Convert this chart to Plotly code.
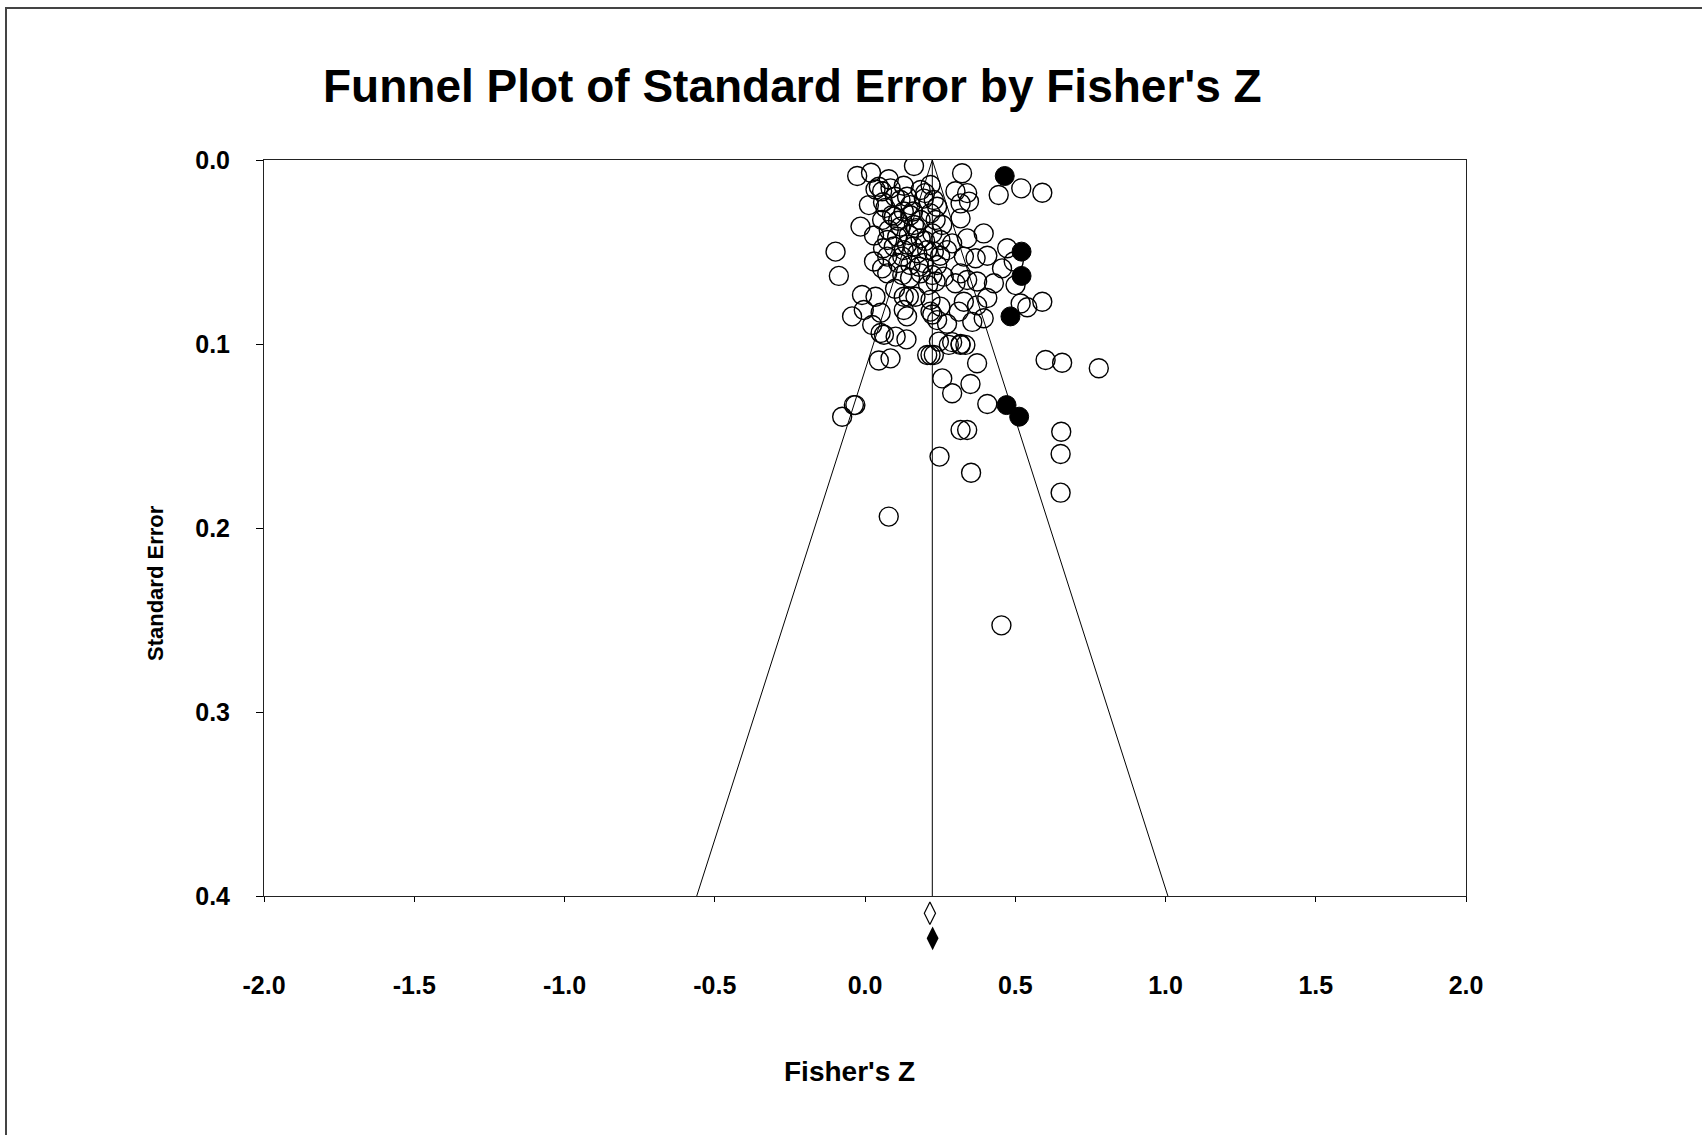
import plotly.graph_objects as go

# ---------------- data ----------------
obs_z = [0.163, -0.026, 0.020, 0.323, 0.079, 0.046, 0.035, 0.057, 0.085, 0.129, 0.185, 0.218,
         0.301, 0.340, 0.445, 0.520, 0.590, 0.013, 0.068, 0.118, 0.151, 0.196, 0.229, 0.240,
         0.346, 0.318, 0.140, -0.015, 0.057, 0.096, 0.129, 0.151, 0.185, 0.218, 0.235, 0.257,
         0.318, 0.118, 0.163, 0.079, 0.395, 0.340, 0.074, 0.107, 0.146, 0.185, 0.224, 0.251,
         0.290, -0.098, 0.473, 0.096, 0.129, 0.030, 0.074, 0.124, 0.174, 0.207, 0.229, 0.273,
         0.329, 0.368, 0.407, 0.456, 0.495, 0.057, 0.151, 0.196, 0.240, -0.087, 0.074, 0.124,
         0.185, 0.224, 0.262, 0.318, 0.340, 0.373, 0.429, 0.501, 0.301, 0.235, -0.010, 0.035,
         0.129, 0.146, 0.168, 0.218, 0.251, 0.329, 0.373, 0.407, 0.518, 0.540, 0.590, -0.043,
         -0.004, 0.052, 0.129, 0.140, 0.218, 0.224, 0.240, 0.273, 0.312, 0.357, 0.395, 0.024,
         0.052, 0.102, 0.290, 0.318, 0.063, 0.138, 0.246, 0.279, 0.318, 0.334, 0.207, 0.218,
         0.229, 0.046, 0.085, 0.373, 0.601, 0.656, 0.778, 0.257, 0.351, 0.290, -0.032, -0.037,
         0.407, -0.076, 0.318, 0.340, 0.653, 0.651, 0.248, 0.353, 0.651, 0.079, 0.454,
         0.100, 0.160, 0.200, 0.060, 0.110, 0.170, 0.140, 0.090, 0.200, 0.250, 0.030, 0.180,
         0.110, 0.150, 0.210, 0.100, 0.060, 0.160]
obs_se = [0.0033, 0.0087, 0.0069, 0.0072, 0.0105, 0.0145, 0.0160, 0.0170, 0.0154, 0.0140, 0.0163, 0.0136,
          0.0170, 0.0180, 0.0190, 0.0154, 0.0178, 0.0245, 0.0260, 0.0217, 0.0245, 0.0210, 0.0217, 0.0254,
          0.0226, 0.0236, 0.0200, 0.0362, 0.0326, 0.0308, 0.0280, 0.0300, 0.0326, 0.0290, 0.0326, 0.0353,
          0.0317, 0.0362, 0.0353, 0.0380, 0.0399, 0.0426, 0.0435, 0.0417, 0.0408, 0.0426, 0.0399, 0.0435,
          0.0453, 0.0498, 0.0480, 0.0470, 0.0490, 0.0552, 0.0525, 0.0525, 0.0507, 0.0490, 0.0498, 0.0490,
          0.0525, 0.0534, 0.0520, 0.0589, 0.0552, 0.0589, 0.0571, 0.0560, 0.0571, 0.0630, 0.0616, 0.0625,
          0.0616, 0.0625, 0.0634, 0.0616, 0.0652, 0.0660, 0.0670, 0.0680, 0.0670, 0.0660, 0.0734, 0.0743,
          0.0743, 0.0743, 0.0743, 0.0760, 0.0797, 0.0770, 0.0790, 0.0750, 0.0780, 0.0800, 0.0770, 0.0850,
          0.0815, 0.0830, 0.0815, 0.0850, 0.0824, 0.0840, 0.0870, 0.0890, 0.0824, 0.0880, 0.0860, 0.0897,
          0.0940, 0.0960, 0.0990, 0.1000, 0.0950, 0.0975, 0.0987, 0.1005, 0.1005, 0.1005, 0.1060, 0.1060,
          0.1060, 0.1090, 0.1078, 0.1105, 0.1087, 0.1102, 0.1132, 0.1187, 0.1217, 0.1268, 0.1332, 0.1332,
          0.1326, 0.1395, 0.1467, 0.1467, 0.1477, 0.1598, 0.1612, 0.1700, 0.1808, 0.1938, 0.2529,
          0.0200, 0.0280, 0.0180, 0.0230, 0.0330, 0.0370, 0.0460, 0.0300, 0.0440, 0.0520, 0.0410, 0.0580,
          0.0560, 0.0640, 0.0680, 0.0700, 0.0480, 0.0470]

imp_z = [0.465, 0.521, 0.521, 0.484, 0.471, 0.513]
imp_se = [0.0087, 0.0498, 0.0630, 0.0850, 0.1332, 0.1395]

obs_summary_z = [0.216]
obs_summary_row = [0.4094]
adj_summary_z = [0.225]
adj_summary_row = [0.423]

combined_z = 0.224
se_max = 0.4
x_ticks = [-2.0, -1.5, -1.0, -0.5, 0.0, 0.5, 1.0, 1.5, 2.0]
y_ticks = [0.0, 0.1, 0.2, 0.3, 0.4]

title_text = "Funnel Plot of Standard Error by Fisher's Z"
x_title = "Fisher's Z"
y_title = "Standard Error"

# ---------------- figure ----------------
W, H = 1702, 1135
L, R, T, B = 264, 1466, 160, 896      # main plot box in pixels
B_EXT = 956                            # extended drawing area below the box (summary diamonds)

def px(x):
    return (x - L) / (R - L)

def py(y):
    return (B_EXT - y) / (B_EXT - T)

main_bottom = py(B)
se_per_px = se_max / (B - T)
ext_max = se_max + (B_EXT - B) * se_per_px

fig = go.Figure()

# funnel lines
fig.add_trace(go.Scatter(
    x=[combined_z - 1.96 * se_max, combined_z, combined_z + 1.96 * se_max],
    y=[se_max, 0, se_max], mode="lines",
    line=dict(color="black", width=1), hoverinfo="skip", showlegend=False))
fig.add_trace(go.Scatter(
    x=[combined_z, combined_z], y=[0, se_max], mode="lines",
    line=dict(color="black", width=1), hoverinfo="skip", showlegend=False))

fig.add_trace(go.Scatter(
    x=obs_z, y=obs_se, mode="markers",
    marker=dict(symbol="circle-open", size=19, color="black", line=dict(width=1.4, color="black")),
    showlegend=False))
fig.add_trace(go.Scatter(
    x=imp_z, y=imp_se, mode="markers",
    marker=dict(symbol="circle", size=19, color="black", line=dict(width=1, color="black")),
    showlegend=False))

# summary diamonds below the box, on an extended invisible axis with the same scale
fig.add_trace(go.Scatter(
    x=obs_summary_z, y=obs_summary_row, mode="markers", yaxis="y2",
    marker=dict(symbol="diamond-tall-open", size=16, color="black", line=dict(width=1.2)),
    showlegend=False))
fig.add_trace(go.Scatter(
    x=adj_summary_z, y=adj_summary_row, mode="markers", yaxis="y2",
    marker=dict(symbol="diamond-tall", size=17, color="black"),
    showlegend=False))

tick_font = dict(family="Liberation Sans, Arial, sans-serif", size=25, color="black", weight="bold")

fig.update_layout(
    width=W, height=H,
    margin=dict(l=L, r=W - R, t=T, b=H - B_EXT, pad=0),
    paper_bgcolor="white", plot_bgcolor="rgba(0,0,0,0)",
    showlegend=False,
    xaxis=dict(range=[-2, 2], tickvals=x_ticks, ticktext=[f"{v:.1f}" for v in x_ticks],
               anchor="y",
               ticks="outside", ticklen=5, tickcolor="black", tickwidth=1,
               showline=True, linecolor="#222", linewidth=1, mirror=True,
               showgrid=False, zeroline=False, tickfont=tick_font, ticklabelstandoff=62),
    yaxis=dict(range=[se_max, 0], domain=[main_bottom, 1], tickvals=y_ticks,
               ticktext=[f"{v:.1f}" for v in y_ticks],
               ticks="outside", ticklen=7, tickcolor="black", tickwidth=1,
               showline=True, linecolor="#222", linewidth=1, mirror=True,
               showgrid=False, zeroline=False, tickfont=tick_font, ticklabelstandoff=21),
    yaxis2=dict(range=[ext_max, 0], domain=[0, 1], anchor="free", position=0,
                visible=False, showgrid=False, zeroline=False),
)

fig.add_annotation(text=title_text, xref="paper", yref="paper", x=px(792), y=py(86),
                   xanchor="center", yanchor="middle", showarrow=False,
                   font=dict(family="Liberation Sans, Arial, sans-serif", size=46, color="black", weight="bold"))
fig.add_annotation(text=x_title, xref="paper", yref="paper", x=px(849), y=py(1071),
                   xanchor="center", yanchor="middle", showarrow=False,
                   font=dict(family="Liberation Sans, Arial, sans-serif", size=28, color="black", weight="bold"))
fig.add_annotation(text=y_title, xref="paper", yref="paper", x=px(155), y=py(583),
                   xanchor="center", yanchor="middle", showarrow=False, textangle=-90,
                   font=dict(family="Liberation Sans Narrow, Arial Narrow, Liberation Sans, sans-serif",
                             size=22, color="black", weight="bold"))

# outer frame (left and top edges visible)
fig.add_shape(type="path", xref="paper", yref="paper",
              path=f"M {px(6)} {py(H + 5)} L {px(6)} {py(8)} L {px(W + 5)} {py(8)}",
              line=dict(color="#444", width=2))

fig.write_html("out.html")
